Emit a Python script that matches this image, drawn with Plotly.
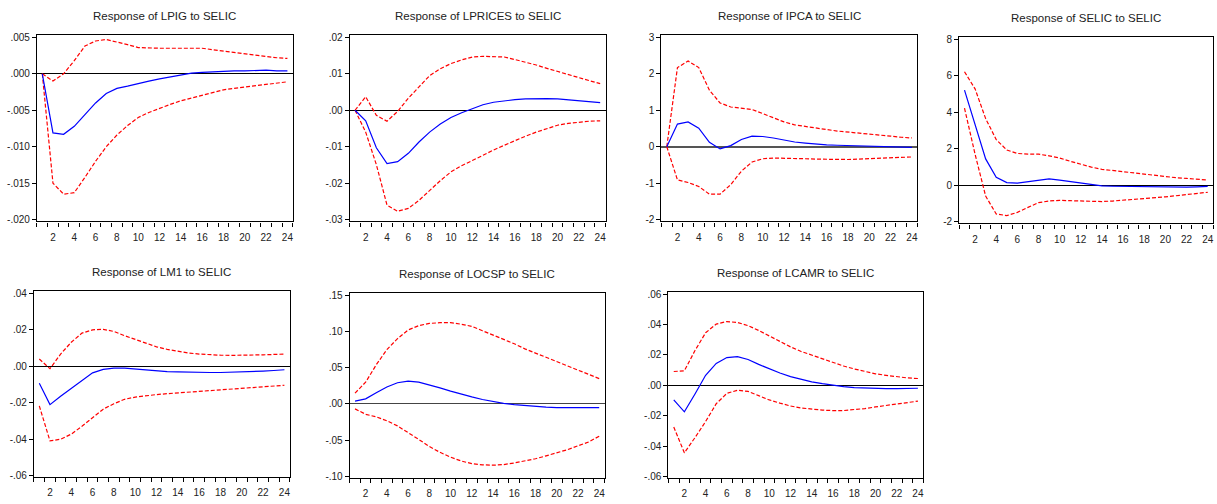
import plotly.graph_objects as go

periods = list(range(1, 25))

# ---- Response of LPIG to SELIC
lpig_resp = [0, -0.0081, -0.0083, -0.0072, -0.0056, -0.0040, -0.0027, -0.0020, -0.0017, -0.0013, -0.0010, -0.0007,
             -0.0004, -0.0001, 0.0001, 0.0002, 0.0003, 0.0004, 0.0004, 0.0004, 0.0005, 0.0005, 0.0004, 0.0004]
lpig_up = [0, -0.0010, 0.0000, 0.0018, 0.0038, 0.0045, 0.0047, 0.0044, 0.0040, 0.0036, 0.0035, 0.0035,
           0.0035, 0.0035, 0.0035, 0.0035, 0.0033, 0.0031, 0.0029, 0.0028, 0.0026, 0.0024, 0.0022, 0.0021]
lpig_lo = [0, -0.0150, -0.0165, -0.0163, -0.0142, -0.0120, -0.0100, -0.0084, -0.0071, -0.0060, -0.0053, -0.0047,
           -0.0042, -0.0037, -0.0033, -0.0029, -0.0025, -0.0022, -0.0020, -0.0018, -0.0016, -0.0014, -0.0012, -0.0011]

# ---- Response of LPRICES to SELIC
lprices_resp = [0, -0.0029, -0.0103, -0.0146, -0.0141, -0.0118, -0.0087, -0.0060, -0.0038, -0.0020, -0.0007, 0.0005,
                0.0015, 0.0022, 0.0026, 0.0029, 0.0031, 0.0032, 0.0032, 0.0031, 0.0029, 0.0027, 0.0024, 0.0021]
lprices_up = [0, 0.0037, -0.0014, -0.0030, -0.0003, 0.0033, 0.0064, 0.0095, 0.0114, 0.0128, 0.0138, 0.0146,
              0.0148, 0.0148, 0.0146, 0.0139, 0.0132, 0.0124, 0.0115, 0.0106, 0.0097, 0.0089, 0.0081, 0.0073]
lprices_lo = [0, -0.0060, -0.0149, -0.0260, -0.0277, -0.0269, -0.0247, -0.0220, -0.0193, -0.0169, -0.0152, -0.0138,
              -0.0123, -0.0109, -0.0096, -0.0083, -0.0071, -0.0060, -0.0050, -0.0041, -0.0036, -0.0032, -0.0030, -0.0029]

# ---- Response of IPCA to SELIC
ipca_resp = [0, 0.62, 0.68, 0.51, 0.12, -0.06, 0.03, 0.20, 0.29, 0.28, 0.24, 0.18,
             0.13, 0.10, 0.07, 0.05, 0.04, 0.03, 0.01, 0.00, -0.01, -0.02, -0.02, -0.02]
ipca_up = [0, 2.17, 2.35, 2.17, 1.55, 1.20, 1.09, 1.06, 1.02, 0.91, 0.80, 0.68,
           0.60, 0.55, 0.51, 0.47, 0.43, 0.40, 0.36, 0.33, 0.31, 0.29, 0.26, 0.24]
ipca_lo = [0, -0.91, -0.98, -1.09, -1.30, -1.30, -1.04, -0.67, -0.42, -0.33, -0.31, -0.31,
           -0.32, -0.33, -0.34, -0.35, -0.35, -0.35, -0.34, -0.33, -0.32, -0.31, -0.30, -0.28]

# ---- Response of SELIC to SELIC
selic_resp = [5.21, 3.30, 1.44, 0.43, 0.14, 0.11, 0.20, 0.28, 0.34, 0.28, 0.20, 0.11,
              0.02, -0.04, -0.06, -0.07, -0.08, -0.09, -0.10, -0.11, -0.11, -0.11, -0.09, -0.07]
selic_up = [6.22, 5.28, 3.65, 2.50, 1.93, 1.74, 1.70, 1.70, 1.61, 1.49, 1.31, 1.13,
            0.99, 0.87, 0.80, 0.73, 0.66, 0.60, 0.53, 0.46, 0.41, 0.37, 0.32, 0.28]
selic_lo = [4.22, 1.70, -0.60, -1.58, -1.67, -1.49, -1.22, -0.96, -0.87, -0.83, -0.85, -0.87,
            -0.89, -0.90, -0.87, -0.83, -0.78, -0.73, -0.69, -0.64, -0.58, -0.51, -0.45, -0.39]

# ---- Response of LM1 to SELIC
lm1_resp = [-0.0094, -0.0211, -0.0165, -0.0121, -0.0076, -0.0037, -0.0018, -0.0011, -0.0011, -0.0016, -0.0022, -0.0027,
            -0.0030, -0.0032, -0.0034, -0.0035, -0.0035, -0.0035, -0.0034, -0.0032, -0.0030, -0.0027, -0.0024, -0.0020]
lm1_up = [0.0039, -0.0014, 0.0066, 0.0131, 0.0181, 0.0199, 0.0202, 0.0190, 0.0167, 0.0146, 0.0124, 0.0106,
          0.0092, 0.0080, 0.0072, 0.0066, 0.0062, 0.0060, 0.0059, 0.0059, 0.0060, 0.0062, 0.0064, 0.0066]
lm1_lo = [-0.0218, -0.0410, -0.0401, -0.0373, -0.0330, -0.0284, -0.0236, -0.0206, -0.0182, -0.0170, -0.0162, -0.0156,
          -0.0151, -0.0147, -0.0142, -0.0138, -0.0134, -0.0130, -0.0125, -0.0121, -0.0117, -0.0114, -0.0109, -0.0105]

# ---- Response of LOCSP to SELIC
locsp_resp = [0.0040, 0.0071, 0.0155, 0.0235, 0.0293, 0.0315, 0.0302, 0.0266, 0.0222, 0.0178, 0.0133, 0.0098,
              0.0062, 0.0031, 0.0009, -0.0009, -0.0022, -0.0036, -0.0044, -0.0049, -0.0052, -0.0053, -0.0051, -0.0049]
locsp_up = [0.015, 0.030, 0.054, 0.075, 0.090, 0.102, 0.108, 0.111, 0.112, 0.112, 0.110, 0.107,
            0.101, 0.095, 0.090, 0.083, 0.076, 0.070, 0.064, 0.058, 0.052, 0.046, 0.041, 0.035]
locsp_lo = [-0.0067, -0.0142, -0.0178, -0.0231, -0.0302, -0.0391, -0.0488, -0.0586, -0.0666, -0.0733, -0.0786, -0.0822,
            -0.0839, -0.0844, -0.0835, -0.0813, -0.0786, -0.0755, -0.0715, -0.0675, -0.0630, -0.0577, -0.0524, -0.0444]

# ---- Response of LCAMR to SELIC
lcamr_resp = [-0.0096, -0.0174, -0.0057, 0.0066, 0.0144, 0.0183, 0.0189, 0.0170, 0.0138, 0.0108, 0.0081, 0.0057,
              0.0038, 0.0023, 0.0011, 0.0000, -0.0008, -0.0015, -0.0018, -0.0021, -0.0022, -0.0021, -0.0020, -0.0019]
lcamr_up = [0.0091, 0.0096, 0.0229, 0.0346, 0.0403, 0.0420, 0.0414, 0.0393, 0.0361, 0.0325, 0.0287, 0.0253,
            0.0223, 0.0198, 0.0172, 0.0149, 0.0127, 0.0108, 0.0091, 0.0076, 0.0066, 0.0057, 0.0049, 0.0045]
lcamr_lo = [-0.0274, -0.0444, -0.0344, -0.0238, -0.0121, -0.0053, -0.0032, -0.0040, -0.0068, -0.0096, -0.0117, -0.0136,
            -0.0149, -0.0157, -0.0163, -0.0166, -0.0166, -0.0159, -0.0153, -0.0142, -0.0132, -0.0121, -0.0113, -0.0104]

# ---- tick values / labels
x_label_vals = [2, 4, 6, 8, 10, 12, 14, 16, 18, 20, 22, 24]
x_label_text = [str(v) for v in x_label_vals]

lpig_yt = [-0.020, -0.015, -0.010, -0.005, 0.000, 0.005]
lpig_yl = ["-.020", "-.015", "-.010", "-.005", ".000", ".005"]
lprices_yt = [-0.03, -0.02, -0.01, 0.00, 0.01, 0.02]
lprices_yl = ["-.03", "-.02", "-.01", ".00", ".01", ".02"]
ipca_yt = [-2, -1, 0, 1, 2, 3]
ipca_yl = ["-2", "-1", "0", "1", "2", "3"]
selic_yt = [-2, 0, 2, 4, 6, 8]
selic_yl = ["-2", "0", "2", "4", "6", "8"]
lm1_yt = [-0.06, -0.04, -0.02, 0.00, 0.02, 0.04]
lm1_yl = ["-.06", "-.04", "-.02", ".00", ".02", ".04"]
locsp_yt = [-0.10, -0.05, 0.00, 0.05, 0.10, 0.15]
locsp_yl = ["-.10", "-.05", ".00", ".05", ".10", ".15"]
lcamr_yt = [-0.06, -0.04, -0.02, 0.00, 0.02, 0.04, 0.06]
lcamr_yl = ["-.06", "-.04", "-.02", ".00", ".02", ".04", ".06"]

titles = ["Response of LPIG to SELIC", "Response of LPRICES to SELIC", "Response of IPCA to SELIC",
          "Response of SELIC to SELIC", "Response of LM1 to SELIC", "Response of LOCSP to SELIC",
          "Response of LCAMR to SELIC"]

panels = [
    (lpig_resp, lpig_up, lpig_lo, lpig_yt, lpig_yl),
    (lprices_resp, lprices_up, lprices_lo, lprices_yt, lprices_yl),
    (ipca_resp, ipca_up, ipca_lo, ipca_yt, ipca_yl),
    (selic_resp, selic_up, selic_lo, selic_yt, selic_yl),
    (lm1_resp, lm1_up, lm1_lo, lm1_yt, lm1_yl),
    (locsp_resp, locsp_up, locsp_lo, locsp_yt, locsp_yl),
    (lcamr_resp, lcamr_up, lcamr_lo, lcamr_yt, lcamr_yl),
]

# zero-line style per panel (IPCA and LOCSP look greyer/heavier in the reference)
zero_styles = [("black", 1), ("black", 1), ("#555555", 1.8), ("black", 1),
               ("black", 1), ("#444444", 1.3), ("black", 1)]

# plot-area boxes in pixels: left, right, top, bottom
W, H = 1217, 504
boxes = [(37, 293, 32, 221), (350, 606, 32, 221), (662, 918, 32, 221), (960, 1214, 34, 223),
         (34, 290, 292, 481), (350, 605, 294, 482), (669, 924, 293, 482)]

FONT = "Liberation Sans, Arial, sans-serif"
fig = go.Figure()
minor_ticks = [p - 0.5 for p in periods] + [periods[-1] + 0.5]

for i, (resp, up, lo, yt, yl) in enumerate(panels):
    n = i + 1
    xa = "x" if n == 1 else f"x{n}"
    ya = "y" if n == 1 else f"y{n}"
    for series, color, dash in [(up, "#FF0000", "4px,2px"), (lo, "#FF0000", "4px,2px"), (resp, "#0000FF", "solid")]:
        fig.add_trace(go.Scatter(x=periods, y=series, xaxis=xa, yaxis=ya, mode="lines",
                                 line=dict(color=color, width=1.2, dash=dash), showlegend=False,
                                 hoverinfo="skip"))
    L, R, T, B = boxes[i]
    span = yt[-1] - yt[0]
    pad = span * 0.01
    key = "" if n == 1 else str(n)
    zc, zw = zero_styles[i]
    fig.layout["xaxis" + key] = dict(
        domain=[L / W, R / W], anchor=ya, range=[0.5, 24.5],
        tickmode="array", tickvals=x_label_vals, ticktext=x_label_text, ticks="",
        ticklabelstandoff=6,
        showline=True, mirror=True, linecolor="black", linewidth=1.2,
        showgrid=False, zeroline=False,
        minor=dict(tickmode="array", tickvals=minor_ticks, ticks="outside", ticklen=4,
                   tickcolor="black", tickwidth=1, showgrid=False),
        tickfont=dict(family=FONT, size=10, color="#222"),
        fixedrange=True,
    )
    fig.layout["yaxis" + key] = dict(
        domain=[1 - B / H, 1 - T / H], anchor=xa, range=[yt[0] - pad, yt[-1] + pad],
        tickmode="array", tickvals=yt, ticktext=yl, ticks="outside", ticklen=4,
        tickcolor="black", showline=True, mirror=True, linecolor="black", linewidth=1.2,
        showgrid=False, zeroline=True, zerolinecolor=zc, zerolinewidth=zw,
        tickfont=dict(family=FONT, size=10, color="#222"),
        fixedrange=True,
    )
    fig.add_annotation(text=titles[i], xref="paper", yref="paper",
                       x=(L + R) / 2 / W, y=1 - (T - 20) / H, xanchor="center", yanchor="middle",
                       showarrow=False, font=dict(family=FONT, size=11.5, color="#222"))

fig.update_layout(width=W, height=H, margin=dict(l=0, r=0, t=0, b=0),
                  paper_bgcolor="white", plot_bgcolor="white", showlegend=False)

fig.write_html("out.html", config={"displayModeBar": False},
               post_script="document.body.style.margin='0';document.body.style.padding='0';document.body.style.overflow='hidden';")
